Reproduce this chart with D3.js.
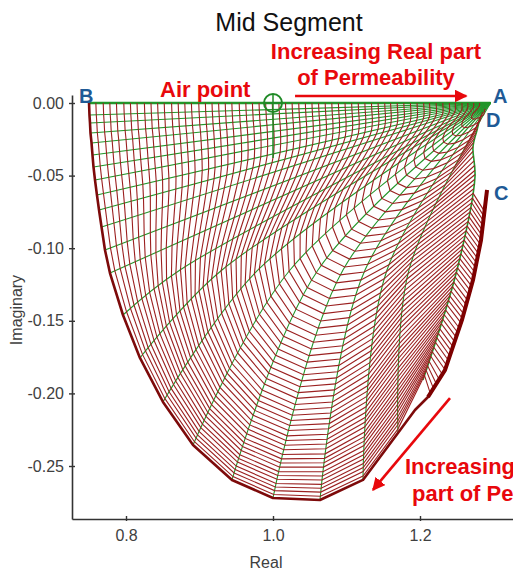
<!DOCTYPE html>
<html>
<head>
<meta charset="utf-8">
<script src="https://cdn.jsdelivr.net/npm/d3@7"></script>
<style>
  body { margin: 0; background: #fff; }
  text { font-family: Arial, "Liberation Sans", sans-serif; }
</style>
</head>
<body>
<script>
const xTicks = [0.8, 1.0, 1.2];
const yTicks = [0, -0.05, -0.10, -0.15, -0.20, -0.25];

// where each red curve (constant real part) leaves the zero line
const redStartX = [
  0.750, 0.759, 0.769, 0.778, 0.787, 0.797, 0.806, 0.815, 0.825, 0.834,
  0.843, 0.852, 0.862, 0.871, 0.880, 0.889, 0.899, 0.908, 0.917, 0.926,
  0.935, 0.944, 0.954, 0.963, 0.972, 0.981, 0.990, 0.999, 1.008, 1.017,
  1.026, 1.035, 1.044, 1.053, 1.062, 1.071, 1.080, 1.089, 1.098, 1.107,
  1.116, 1.125, 1.134, 1.143, 1.152, 1.160, 1.169, 1.178, 1.187, 1.196,
  1.205, 1.213, 1.222, 1.231, 1.240, 1.248, 1.257, 1.265, 1.273, 1.281
];

// where each green curve meets the outer red boundary, from B round the bottom
const outerNodes = [
  [0.7497, 0.0000], [0.7503, -0.0083], [0.7510, -0.0138], [0.7517, -0.0207],
  [0.7531, -0.0275], [0.7544, -0.0358], [0.7558, -0.0441], [0.7578, -0.0530],
  [0.7605, -0.0634], [0.7633, -0.0737], [0.7667, -0.0854], [0.7714, -0.1012],
  [0.7782, -0.1171], [0.7959, -0.1460], [0.8190, -0.1756], [0.8503, -0.2059],
  [0.8912, -0.2355], [0.9442, -0.2596], [1.0000, -0.2720], [1.0639, -0.2734],
  [1.1224, -0.2596], [1.1700, -0.2273], [1.2040, -0.1908]
];

// where the lower green curves cross Imaginary = -0.115
const greenCrossX = [
  null, null, null, null, null, null, null, null, null, null, null, null, null,
  0.8735, 0.9306, 0.9796, 1.0231, 1.0612, 1.0952, 1.1252, 1.1551, 1.1850, 1.2503
];
const crossY = -0.115;

// right edge from C' up through D to A (the last green curve)
const rightEdge = [
  [1.2748, -0.0510], [1.2721, -0.0303], [1.2776, -0.0186],
  [1.2844, -0.0069], [1.2960, 0.0000]
];

// dark outer edge of the lower right band, from the boundary up to C
const endEdge = [
  [1.1700, -0.2273], [1.1932, -0.2114], [1.2109, -0.2025], [1.2340, -0.1839],
  [1.2571, -0.1494], [1.2721, -0.1219], [1.2830, -0.0944], [1.2912, -0.0599]
];

const pointA = [1.296, 0];
const airPoint = [1.0, 0];

const W = 513, H = 578;
const svg = d3.select("body").append("svg")
  .attr("width", W)
  .attr("height", H);

const x = d3.scaleLinear().domain([0.72653, 1.32653]).range([72, 513]);
const y = d3.scaleLinear().domain([-0.2865, 0.00551]).range([519, 95]);
const toPx = d => [x(d[0]), y(d[1])];

const line = d3.line();
const smooth = d3.line().curve(d3.curveCatmullRom.alpha(0.5));
const gridG = svg.append("g");
const nG = outerNodes.length;

// guide points of every green curve, outer end first, all meeting at A
const guides = outerNodes.map((o, j) => {
  const pts = [o];
  if (greenCrossX[j] != null) pts.push([greenCrossX[j], crossY]);
  if (j == nG - 1) return pts.concat(rightEdge).map(toPx);
  pts.push(pointA);
  return pts.map(toPx);
});

const greens = gridG.selectAll("path.green")
  .data(guides)
  .join("path")
  .attr("class", "green")
  .attr("d", smooth)
  .attr("fill", "none")
  .attr("stroke", "#23962a")
  .attr("stroke-width", (d, i) => i == 0 ? 2.4 : (i == nG - 1 ? 1.6 : 1.1));

const B = toPx(outerNodes[0]);
const A = toPx(pointA);
const sig = redStartX.map(v => (x(v) - B[0]) / (A[0] - B[0]));

// share of the way along a green curve, outer arcs packed near the boundary
function squeeze(s, j) {
  const a = 1.5 * Math.exp(-Math.pow((j - 17) / 5, 2));
  if (j == nG - 1) return s;
  const o = 1 - s;
  return 1 - (1 - Math.exp(-a * o)) / (1 - Math.exp(-a));
}

const greenNodes = greens.nodes().map((p, j) => {
  const L = p.getTotalLength();
  return sig.map(s => {
    const q = p.getPointAtLength(L * squeeze(s, j));
    return [q.x, q.y];
  });
});

const edgePx = endEdge.map(toPx);
const edgeX = d3.scaleLinear()
  .domain(edgePx.map(p => p[1]))
  .range(edgePx.map(p => p[0]))
  .clamp(true);
const cY = edgePx[edgePx.length - 1][1];
const lowY = edgePx[0][1];

const redPaths = sig.map((s, k) => {
  const row = greenNodes.map(g => g[k]);
  const last = row[row.length - 1];
  if (last[1] <= cY) return row;
  const ey = Math.min(last[1] + 18, lowY);
  return row.concat([[edgeX(ey), ey]]);
});

gridG.selectAll("path.red")
  .data(redPaths.slice(1))
  .join("path")
  .attr("class", "red")
  .attr("d", line)
  .attr("fill", "none")
  .attr("stroke", "#9b2020")
  .attr("stroke-width", 1.1);

// thick outer boundary: B round the bottom, then up the dark band edge to C
const boundary = outerNodes.slice(0, nG - 1).map(toPx).concat(edgePx.slice(1));
gridG.append("path")
  .attr("d", line(boundary))
  .attr("fill", "none")
  .attr("stroke", "#7d0a0a")
  .attr("stroke-width", 2.6)
  .attr("stroke-linejoin", "round");

gridG.append("path")
  .attr("d", line(edgePx.slice(2)))
  .attr("fill", "none")
  .attr("stroke", "#7d0000")
  .attr("stroke-width", 4);

// air point marker
const ap = toPx(airPoint);
const airG = svg.append("g")
  .attr("transform", "translate(" + ap[0] + "," + ap[1] + ")")
  .attr("stroke", "#1f8a26")
  .attr("fill", "none")
  .attr("stroke-width", 2);
airG.append("circle").attr("r", 9);
airG.append("line").attr("x1", -9).attr("x2", 9);
airG.append("line").attr("y1", -9).attr("y2", 55).attr("stroke-width", 1.5);

// axes
const yAxis = svg.append("g")
  .attr("transform", "translate(72,0)")
  .call(d3.axisLeft(y).tickValues(yTicks).tickFormat(d => d.toFixed(2))
    .tickSizeInner(3).tickSizeOuter(0).tickPadding(5));
yAxis.selectAll(".tick line").attr("x2", -3).attr("x1", 3);

const xAxis = svg.append("g")
  .attr("transform", "translate(0,519)")
  .call(d3.axisBottom(x).tickValues(xTicks).tickFormat(d => d.toFixed(1))
    .tickSizeInner(2).tickSizeOuter(0).tickPadding(9));
xAxis.selectAll(".tick line").attr("y1", -3).attr("y2", 2);

svg.selectAll(".domain").attr("stroke", "#333").attr("stroke-width", 1.6);
svg.selectAll(".tick line").attr("stroke", "#333").attr("stroke-width", 1.4);
svg.selectAll(".tick text")
  .attr("font-size", 16)
  .attr("font-family", "Arial, 'Liberation Sans', sans-serif")
  .attr("fill", "#404040");

svg.append("text")
  .attr("x", 266).attr("y", 568)
  .attr("text-anchor", "middle")
  .attr("font-size", 16).attr("fill", "#404040")
  .text("Real");

svg.append("text")
  .attr("transform", "translate(22,310) rotate(-90)")
  .attr("text-anchor", "middle")
  .attr("font-size", 16).attr("fill", "#404040")
  .text("Imaginary");

// title and annotations
svg.append("text")
  .attr("x", 289).attr("y", 31)
  .attr("text-anchor", "middle")
  .attr("font-size", 25).attr("fill", "#111")
  .text("Mid Segment");

const red = "#e8080c";
const note = (tx, ty, s, anchor) => svg.append("text")
  .attr("x", tx).attr("y", ty)
  .attr("text-anchor", anchor || "start")
  .attr("font-size", 22).attr("font-weight", "bold")
  .attr("fill", red)
  .text(s);

note(376, 59, "Increasing Real part", "middle");
note(376, 85, "of Permeability", "middle");
note(160, 97, "Air point");
note(405, 474, "Increasing Imaginary");
note(412, 501, "part of Permeability");

svg.append("defs").append("marker")
  .attr("id", "head")
  .attr("viewBox", "0 0 10 10")
  .attr("refX", 9).attr("refY", 5)
  .attr("markerWidth", 5).attr("markerHeight", 5)
  .attr("orient", "auto")
  .append("path")
  .attr("d", "M0,0L10,5L0,10z")
  .attr("fill", red);

const arrows = [
  [[1.030, 0.0048], [1.263, 0.0048]],
  [[1.2408, -0.2032], [1.136, -0.2665]]
];
svg.selectAll("line.arrow")
  .data(arrows)
  .join("line")
  .attr("class", "arrow")
  .attr("x1", d => x(d[0][0])).attr("y1", d => y(d[0][1]))
  .attr("x2", d => x(d[1][0])).attr("y2", d => y(d[1][1]))
  .attr("stroke", red)
  .attr("stroke-width", 2.6)
  .attr("marker-end", "url(#head)");

const corner = (tx, ty, s) => svg.append("text")
  .attr("x", tx).attr("y", ty)
  .attr("font-size", 20).attr("font-weight", "bold")
  .attr("fill", "#1f5a96")
  .text(s);
corner(493, 103, "A");
corner(79, 103, "B");
corner(494, 200, "C");
corner(486, 127, "D");
</script>
</body>
</html>
